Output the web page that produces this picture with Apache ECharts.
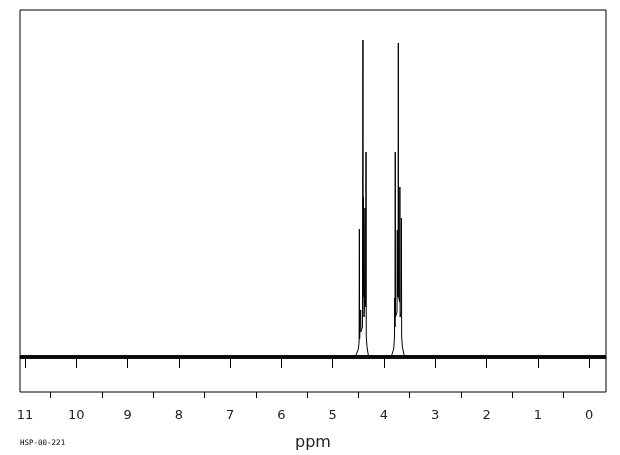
<!DOCTYPE html>
<html>
<head>
<meta charset="utf-8">
<script src="https://cdn.jsdelivr.net/npm/echarts@6/dist/echarts.min.js"></script>
<style>html,body{margin:0;padding:0;background:#fff;}#c{width:620px;height:455px;}</style>
</head>
<body>
<div id="c"></div>
<script>
// chemical shift (ppm) and intensity of the drawn spectrum trace (multiplet region)
var spectrumPpm = [11.098,
  4.56, 4.50, 4.485, 4.48, 4.475, 4.46, 4.455, 4.45, 4.42, 4.41, 4.405, 4.40, 4.39, 4.38, 4.37, 4.365, 4.355, 4.35, 4.345, 4.33, 4.30,
  3.86, 3.81, 3.795, 3.79, 3.785, 3.78, 3.775, 3.745, 3.74, 3.735, 3.725, 3.72, 3.715, 3.695, 3.69, 3.685, 3.665, 3.66, 3.655, 3.64, 3.60,
  -0.33];
var spectrumIntensity = [0,
  0, 8, 15, 128, 18, 20, 47, 25, 30, 317, 60, 160, 40, 50, 149, 50, 60, 205, 20, 10, 0,
  0, 8, 20, 59, 30, 205, 40, 45, 127, 60, 70, 314, 60, 55, 170, 40, 45, 139, 20, 10, 0,
  0];
// baseline (noise band) extent
var baselinePpm = [11.098, -0.33];
var baselineIntensity = [0, 0];
// axis ticks
var majorTicks = [0, 1, 2, 3, 4, 5, 6, 7, 8, 9, 10, 11];
var minorTicks = [0.5, 1.5, 2.5, 3.5, 4.5, 5.5, 6.5, 7.5, 8.5, 9.5, 10.5];
var axisTitle = 'ppm';
var footnote = 'HSP-00-221';

var spectrum = spectrumPpm.map(function (p, i) { return [p, spectrumIntensity[i]]; });
var baseline = baselinePpm.map(function (p, i) { return [p, baselineIntensity[i]]; });

var chart = echarts.init(document.getElementById('c'), null, {renderer: 'canvas'});
chart.setOption({
  animation: false,
  backgroundColor: '#fff',
  grid: {left: 20, right: 14, top: 10, height: 382, show: true, borderColor: '#000', borderWidth: 1, backgroundColor: 'transparent'},
  xAxis: [{
    type: 'value', inverse: true, min: -0.33, max: 11.098,
    axisLine: {show: true, lineStyle: {color: '#000', width: 1}},
    splitLine: {show: false},
    axisTick: {show: true, customValues: majorTicks, length: 11, lineStyle: {color: '#000', width: 1}},
    axisLabel: {show: true, customValues: majorTicks, margin: 17, fontSize: 13, color: '#222', fontFamily: 'DejaVu Sans'}
  }, {
    type: 'value', inverse: true, min: -0.33, max: 11.098, position: 'bottom',
    axisLine: {show: false},
    splitLine: {show: false},
    axisTick: {show: true, customValues: minorTicks, length: 6, lineStyle: {color: '#000', width: 1}},
    axisLabel: {show: false}
  }],
  yAxis: {type: 'value', min: -35, max: 347, show: false, splitLine: {show: false}},
  series: [{
    type: 'line', data: baseline, xAxisIndex: 0, showSymbol: false, symbol: 'none',
    lineStyle: {color: '#111', width: 4}, z: 2
  }, {
    type: 'line', data: spectrum, xAxisIndex: 0, showSymbol: false, symbol: 'none',
    lineStyle: {color: '#000', width: 1}, z: 3
  }],
  graphic: [{
    type: 'text', left: 295, top: 435,
    style: {text: axisTitle, fontSize: 16, fill: '#222', fontFamily: 'DejaVu Sans'}
  }, {
    type: 'text', left: 20, top: 439,
    style: {text: footnote, fontSize: 7.5, fill: '#000', fontFamily: 'DejaVu Sans Mono'}
  }]
});
</script>
</body>
</html>
